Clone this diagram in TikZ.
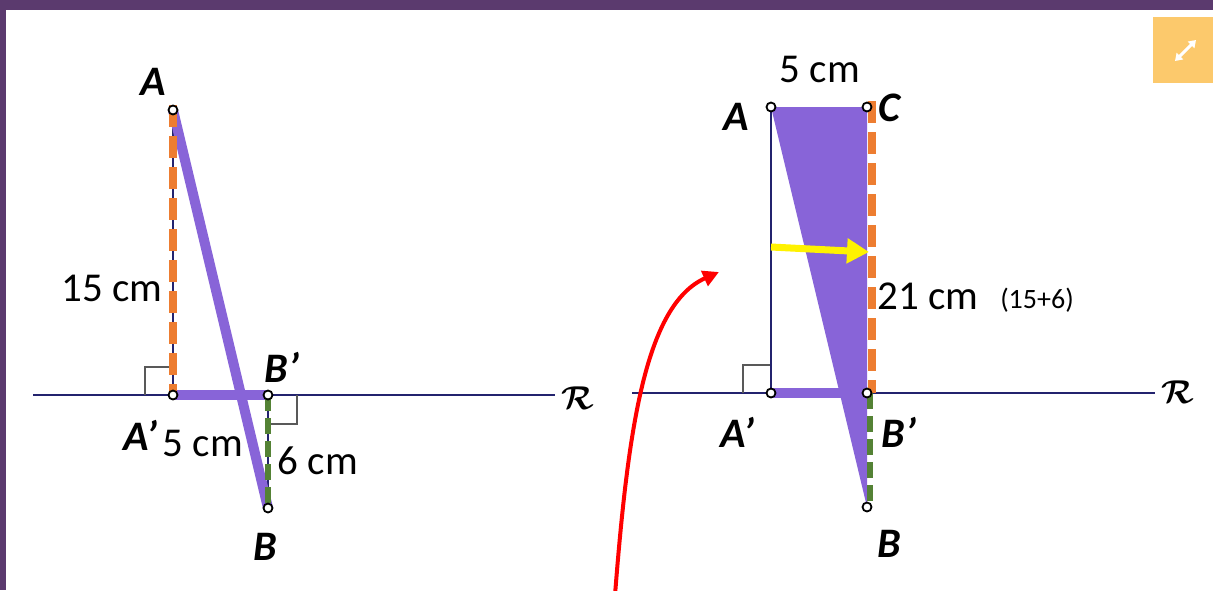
\documentclass[tikz,border=0pt]{standalone}
\usepackage{amsmath}
\usepackage{bm}
\usepackage{fontspec}
\setmainfont{Carlito}
\usetikzlibrary{arrows.meta}
\definecolor{frame}{HTML}{5B3A6E}
\definecolor{navy}{HTML}{23236E}
\definecolor{orng}{HTML}{ED7D31}
\definecolor{grn}{HTML}{548235}
\definecolor{purp}{HTML}{8864D8}
\definecolor{icon}{HTML}{FCC96C}
\newcommand{\pr}{\symbol{39}}
\tikzset{
  pt/.style={circle,draw=black,fill=white,line width=1.8pt,inner sep=0pt,minimum size=9pt},
  lbl/.style={font=\fontsize{42}{44}\selectfont\bfseries\itshape,inner sep=0pt},
  meas/.style={font=\fontsize{41}{44}\selectfont,inner sep=0pt},
  axis/.style={navy,line width=1.6pt},
  thin/.style={navy,line width=1.5pt},
  seg/.style={purp,line width=10pt},
  odash/.style={orng,line width=8pt,dash pattern=on 22pt off 9pt},
  gdash/.style={grn,line width=6pt,dash pattern=on 16pt off 7pt},
  rangle/.style={draw=black!65,line width=1.5pt},
  rname/.style={font=\fontsize{10}{10}\selectfont,inner sep=0pt,scale=3.3}
}
\begin{document}
\begin{tikzpicture}[x=1pt,y=-1pt]
\useasboundingbox (0,0) rectangle (1213,590);
\fill[white] (0,0) rectangle (1213,590);
\fill[frame] (0,0) rectangle (1213,10);
\fill[frame] (0,0) rectangle (6,590);
% icon
\fill[icon] (1153,17) rectangle (1213,83);
\coordinate (i1) at (1175,61);
\coordinate (i2) at (1196,40);
\draw[white,line width=3pt,{Triangle[length=7pt,width=9pt]}-{Triangle[length=7pt,width=9pt]}] (i1) -- (i2);

% ===== left figure =====
\coordinate (LA) at (173,110);
\coordinate (LAp) at (173,395);
\coordinate (LBp) at (268,395);
\coordinate (LB) at (268,508);
\coordinate (LR0) at (33,395);
\coordinate (LR1) at (555,395);
\draw[axis] (LR0) -- (LR1);
\node[rname] (LRn) at (578,398) {$\bm{\mathcal{R}}$};
\draw[rangle] (145,395) -- (145,367) -- (173,367);
\draw[rangle] (268,424) -- (297,424) -- (297,395);
\draw[thin] (LA) -- (LAp);
\draw[thin] (LBp) -- (LB);
\draw[seg] (LAp) -- (LBp);
\draw[seg] (LA) -- (LB);
\draw[odash] ([yshift=5pt]LA) -- (LAp);
\draw[gdash] (LBp) -- (LB);
\node[pt] (pLA) at (LA) {};
\node[pt] (pLAp) at (LAp) {};
\node[pt] (pLBp) at (LBp) {};
\node[pt] (pLB) at (LB) {};
\node[lbl] (tLA) at (153,82) {A};
\node[lbl] (tLBp) at (282,367) {B\pr};
\node[lbl] (tLAp) at (140,435) {A\pr};
\node[lbl] (tLB) at (265,547) {B};
\node[meas] (m15) at (112,288) {15 cm};
\node[meas] (m5) at (203,443) {5 cm};
\node[meas] (m6) at (318,461) {6 cm};

% ===== right figure =====
\coordinate (RA) at (771,107);
\coordinate (RC) at (867,107);
\coordinate (RAp) at (771,393);
\coordinate (RBp) at (867,393);
\coordinate (RB) at (867,507);
\coordinate (RR0) at (632,393);
\coordinate (RR1) at (1155,393);
\draw[axis] (RR0) -- (RR1);
\node[rname] (RRn) at (1178,392) {$\bm{\mathcal{R}}$};
\draw[rangle] (743,393) -- (743,365) -- (771,365);
\fill[purp] (RA) -- (RC) -- (RB) -- cycle;
\draw[seg] (RAp) -- (RBp);
\draw[thin] (RA) -- (RAp);
\draw[odash] ([xshift=5pt,yshift=6pt]RC) -- ([xshift=5pt]RBp);
\draw[gdash] ([xshift=3pt]RBp) -- ([xshift=3pt]RB);
\node[pt] (pRA) at (RA) {};
\node[pt] (pRC) at (RC) {};
\node[pt] (pRAp) at (RAp) {};
\node[pt] (pRBp) at (RBp) {};
\node[pt] (pRB) at (RB) {};
\coordinate (Y0) at (771,247);
\coordinate (Y1) at (869,252);
\draw[yellow,line width=7pt,-{Triangle[length=22pt,width=24pt]}] (Y0) -- (Y1);
\node[lbl] (tRA) at (736,117) {A};
\node[lbl] (tRC) at (889,108) {C};
\node[lbl] (tRAp) at (737,432) {A\pr};
\node[lbl] (tRBp) at (899,432) {B\pr};
\node[lbl] (tRB) at (889,544) {B};
\node[meas] (m5r) at (820,69) {5 cm};
\node[meas] (m21) at (928,296) {21 cm};
\node[font=\fontsize{28}{30}\selectfont,inner sep=0pt] (m156) at (1037,300) {(15+6)};

% red curved arrow
\coordinate (C0) at (615,595);
\coordinate (C1) at (719,272);
\draw[red,line width=4pt,-{Triangle[length=16pt,width=16pt]}] (C0) .. controls (628,430) and (645,305) .. (C1);
\end{tikzpicture}
\end{document}
